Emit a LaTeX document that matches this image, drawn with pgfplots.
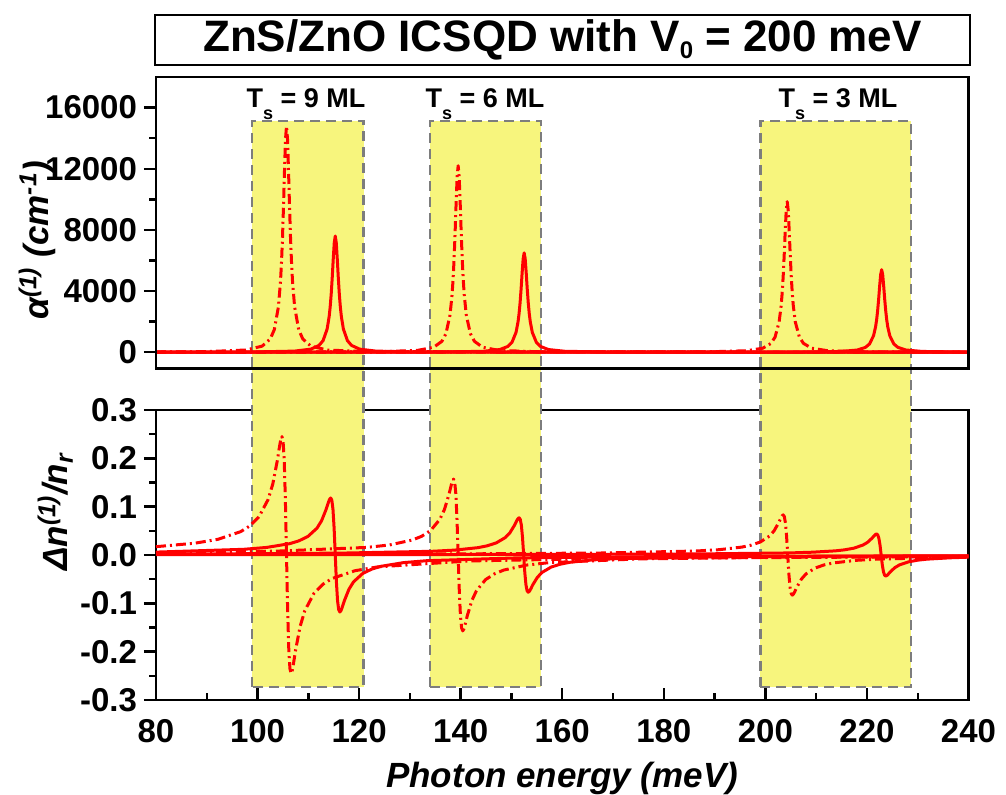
\documentclass[border=0pt]{standalone}
\usepackage{fontspec}
\setmainfont{Liberation Sans}
\usepackage{pgfplots}
\pgfplotsset{compat=1.18}
\definecolor{ylw}{RGB}{247,245,125}
\definecolor{brd}{RGB}{125,125,125}
\pgfplotsset{
  common/.style={
    scale only axis, width=406.25pt, xmin=80, xmax=240, enlargelimits=false, clip=false,
    axis line style={line width=1.3pt},
    tick style={line width=1.2pt, black},
    major tick length=6pt, minor tick length=3.5pt,
    tick label style={font=\bfseries\fontsize{16.5}{18}\selectfont},
    label style={font=\bfseries\itshape\fontsize{17.5}{20}\selectfont},
    /pgf/number format/assume math mode=true,
    ytick pos=left, ytick align=outside, minor y tick num=1,
    no markers,
  },
  sol/.style={red, line width=1.5pt, line join=round},
  dd/.style={red, line width=1.5pt, line join=round, dash pattern=on 5pt off 2pt on 1pt off 2pt},
}
\begin{document}
\begin{tikzpicture}
\useasboundingbox (0,0) rectangle (503pt,-397pt);
% ---------------- bottom panel ----------------
\begin{axis}[common, at={(78pt,-205pt)}, anchor=north west, height=145pt,
  ymin=-0.3, ymax=0.3, ytick={-0.3,-0.2,-0.1,0,0.1,0.2,0.3},
  yticklabel style={/pgf/number format/.cd, fixed, fixed zerofill, precision=1},
  xtick={80,100,...,240}, minor x tick num=1, xtick align=inside, xtick pos=bottom,
  xticklabel style={yshift=-6pt},
  xlabel={Photon energy (meV)},
  xlabel style={yshift=-3pt},
  ylabel={Δn\textsuperscript{(1)}/n\textsubscript{r}},
  ylabel style={at={(axis description cs:-0.124,0.648)}, anchor=center},
]
\draw[fill=ylw, draw=brd, line width=1.2pt, dash pattern=on 5pt off 3pt] (axis cs:98.9,-0.273) rectangle (axis cs:120.9,0.898);
\draw[fill=ylw, draw=brd, line width=1.2pt, dash pattern=on 5pt off 3pt] (axis cs:134.0,-0.273) rectangle (axis cs:155.8,0.898);
\draw[fill=ylw, draw=brd, line width=1.2pt, dash pattern=on 5pt off 3pt] (axis cs:199.0,-0.273) rectangle (axis cs:228.7,0.898);
% Ts = 9 ML
\addplot[dd] coordinates {(80,0.0172) (87.7,0.0245) (92.2,0.0325) (96.7,0.0485) (98.5,0.0603) (100.3,0.0795) (102.1,0.1153) (103.0,0.147) (103.9,0.196) (104.35,0.2262) (104.575,0.239) (104.8,0.245) (105.025,0.2352) (105.25,0.196) (105.475,0.1153) (105.7,0) (105.925,-0.1153) (106.15,-0.196) (106.375,-0.2352) (106.6,-0.245) (106.825,-0.239) (107.05,-0.2262) (107.5,-0.196) (108.4,-0.147) (109.3,-0.1153) (111.1,-0.0795) (112.9,-0.0603) (114.7,-0.0485) (119.2,-0.0325) (123.7,-0.0245) (141.7,-0.0123) (168.7,-0.0070) (240,-0.0033)};
\addplot[sol] coordinates {(80,0.0060) (97.3,0.0118) (101.8,0.0157) (106.3,0.0234) (108.1,0.0291) (109.9,0.0383) (111.7,0.0555) (112.6,0.0708) (113.5,0.0944) (113.95,0.1089) (114.175,0.1151) (114.4,0.118) (114.625,0.1133) (114.85,0.0944) (115.075,0.0555) (115.3,0) (115.525,-0.0555) (115.75,-0.0944) (115.975,-0.1133) (116.2,-0.118) (116.425,-0.1151) (116.65,-0.1089) (117.1,-0.0944) (118.0,-0.0708) (118.9,-0.0555) (120.7,-0.0383) (122.5,-0.0291) (124.3,-0.0234) (128.8,-0.0157) (133.3,-0.0118) (151.3,-0.0059) (178.3,-0.0034) (240,-0.0017)};
% Ts = 6 ML
\addplot[dd] coordinates {(80,0.0048) (103.5,0.0079) (121.5,0.0157) (126.0,0.0208) (130.5,0.0311) (132.3,0.0387) (134.1,0.0509) (135.9,0.0739) (136.8,0.0942) (137.7,0.1256) (138.15,0.1449) (138.375,0.1532) (138.6,0.157) (138.825,0.1507) (139.05,0.1256) (139.275,0.0739) (139.5,0) (139.725,-0.0739) (139.95,-0.1256) (140.175,-0.1507) (140.4,-0.157) (140.625,-0.1532) (140.85,-0.1449) (141.3,-0.1256) (142.2,-0.0942) (143.1,-0.0739) (144.9,-0.0509) (146.7,-0.0387) (148.5,-0.0311) (153.0,-0.0208) (157.5,-0.0157) (175.5,-0.0079) (202.5,-0.0045) (240,-0.0028)};
\addplot[sol] coordinates {(80,0.0019) (89.4,0.0022) (116.4,0.0039) (134.4,0.0077) (138.9,0.0102) (143.4,0.0152) (145.2,0.019) (147.0,0.025) (148.8,0.0362) (149.7,0.0462) (150.6,0.0616) (151.05,0.0711) (151.275,0.0751) (151.5,0.077) (151.725,0.0739) (151.95,0.0616) (152.175,0.0362) (152.4,0) (152.625,-0.0362) (152.85,-0.0616) (153.075,-0.0739) (153.3,-0.077) (153.525,-0.0751) (153.75,-0.0711) (154.2,-0.0616) (155.1,-0.0462) (156.0,-0.0362) (157.8,-0.025) (159.6,-0.019) (161.4,-0.0152) (165.9,-0.0102) (170.4,-0.0077) (188.4,-0.0039) (215.4,-0.0022) (240,-0.0016)};
% Ts = 3 ML
\addplot[dd] coordinates {(80,0.0012) (141.4,0.0024) (168.4,0.0042) (186.4,0.0083) (190.9,0.011) (195.4,0.0164) (197.2,0.0204) (199.0,0.0269) (200.8,0.0391) (201.7,0.0498) (202.6,0.0664) (203.05,0.0766) (203.275,0.081) (203.5,0.083) (203.725,0.0797) (203.95,0.0664) (204.175,0.0391) (204.4,0) (204.625,-0.0391) (204.85,-0.0664) (205.075,-0.0797) (205.3,-0.083) (205.525,-0.081) (205.75,-0.0766) (206.2,-0.0664) (207.1,-0.0498) (208.0,-0.0391) (209.8,-0.0269) (211.6,-0.0204) (213.4,-0.0164) (217.9,-0.011) (222.4,-0.0083) (240,-0.0042)};
\addplot[sol] coordinates {(80,0.0006) (159.8,0.0012) (186.8,0.0022) (204.8,0.0043) (209.3,0.0058) (213.8,0.0086) (215.6,0.0107) (217.4,0.0141) (219.2,0.0205) (220.1,0.0261) (221.0,0.0348) (221.45,0.0402) (221.675,0.0424) (221.9,0.0435) (222.125,0.0418) (222.35,0.0348) (222.575,0.0205) (222.8,0) (223.025,-0.0205) (223.25,-0.0348) (223.475,-0.0418) (223.7,-0.0435) (223.925,-0.0424) (224.15,-0.0402) (224.6,-0.0348) (225.5,-0.0261) (226.4,-0.0205) (228.2,-0.0141) (230.0,-0.0107) (231.8,-0.0086) (236.3,-0.0058) (240,-0.0045)};
\end{axis}
% ---------------- top panel ----------------
\begin{axis}[common, at={(78pt,-38.5pt)}, anchor=north west, height=145.65pt,
  axis on top,
  ymin=-1050, ymax=18000, ytick={0,4000,8000,12000,16000},
  scaled y ticks=false,
  yticklabel style={/pgf/number format/.cd, fixed, 1000 sep={}},
  xtick=\empty,
  ylabel={α\textsuperscript{(1)} (cm\textsuperscript{-1})},
  ylabel style={at={(axis description cs:-0.146,0.44)}, anchor=center},
]
\addplot[dd] coordinates {(80,14) (89.7,37) (97.7,147) (100.9,400) (102.5,870) (103.3,1480) (104.1,2960) (104.5,4554) (104.7,5775) (104.9,7400) (105.1,9472) (105.3,11840) (105.5,13930) (105.7,14800) (105.9,13930) (106.1,11840) (106.3,9472) (106.5,7400) (106.7,5775) (106.9,4554) (107.3,2960) (108.1,1480) (108.9,870) (110.5,400) (113.7,147) (121.7,37) (240,0)};
\addplot[sol] coordinates {(80,4) (99.3,19) (107.3,75) (110.5,205) (112.1,447) (112.9,760) (113.7,1520) (114.1,2339) (114.3,2966) (114.5,3800) (114.7,4864) (114.9,6080) (115.1,7153) (115.3,7600) (115.5,7153) (115.7,6080) (115.9,4864) (116.1,3800) (116.3,2966) (116.5,2339) (116.9,1520) (117.7,760) (118.5,447) (120.1,205) (123.3,75) (131.3,19) (240,0)};
\addplot[dd] coordinates {(80,3) (123.5,30) (131.5,121) (134.7,329) (136.3,717) (137.1,1220) (137.9,2440) (138.3,3754) (138.5,4760) (138.7,6100) (138.9,7808) (139.1,9760) (139.3,11483) (139.5,12200) (139.7,11483) (139.9,9760) (140.1,7808) (140.3,6100) (140.5,4760) (140.7,3754) (141.1,2440) (141.9,1220) (142.7,717) (144.3,329) (147.5,121) (155.5,30) (240,1)};
\addplot[sol] coordinates {(80,1) (136.5,16) (144.5,64) (147.7,176) (149.3,382) (150.1,650) (150.9,1300) (151.3,2000) (151.5,2536) (151.7,3250) (151.9,4160) (152.1,5200) (152.3,6118) (152.5,6500) (152.7,6118) (152.9,5200) (153.1,4160) (153.3,3250) (153.5,2536) (153.7,2000) (154.1,1300) (154.9,650) (155.7,382) (157.3,176) (160.5,64) (168.5,16) (240,1)};
\addplot[dd] coordinates {(80,0) (188.3,25) (196.3,98) (199.5,266) (201.1,579) (201.9,985) (202.7,1970) (203.1,3031) (203.3,3843) (203.5,4925) (203.7,6304) (203.9,7880) (204.1,9271) (204.3,9850) (204.5,9271) (204.7,7880) (204.9,6304) (205.1,4925) (205.3,3843) (205.5,3031) (205.9,1970) (206.7,985) (207.5,579) (209.1,266) (212.3,98) (220.3,25) (240,5)};
\addplot[sol] coordinates {(80,0) (206.9,14) (214.9,53) (218.1,146) (219.7,318) (220.5,540) (221.3,1080) (221.7,1662) (221.9,2107) (222.1,2700) (222.3,3456) (222.5,4320) (222.7,5082) (222.9,5400) (223.1,5082) (223.3,4320) (223.5,3456) (223.7,2700) (223.9,2107) (224.1,1662) (224.5,1080) (225.3,540) (226.1,318) (227.7,146) (230.9,53) (238.9,14) (240,12)};
\end{axis}
% ---------------- labels and title ----------------
\node[anchor=base, font=\bfseries\fontsize{13.5}{15}\selectfont] at (153pt,-53.5pt) {T\raisebox{-0.45em}{\fontsize{9}{9}\selectfont s} = 9 ML};
\node[anchor=base, font=\bfseries\fontsize{13.5}{15}\selectfont] at (242.5pt,-53.5pt) {T\raisebox{-0.45em}{\fontsize{9}{9}\selectfont s} = 6 ML};
\node[anchor=base, font=\bfseries\fontsize{13.5}{15}\selectfont] at (419pt,-53.5pt) {T\raisebox{-0.45em}{\fontsize{9}{9}\selectfont s} = 3 ML};
\node[draw, line width=1.25pt, minimum width=407.5pt, minimum height=25pt, inner sep=0pt,
  font=\bfseries\fontsize{22}{24}\selectfont] at (281.25pt,-20pt)
  {ZnS/ZnO ICSQD with V\raisebox{-3.5pt}{\fontsize{12}{12}\selectfont 0} = 200 meV};
\end{tikzpicture}
\end{document}
